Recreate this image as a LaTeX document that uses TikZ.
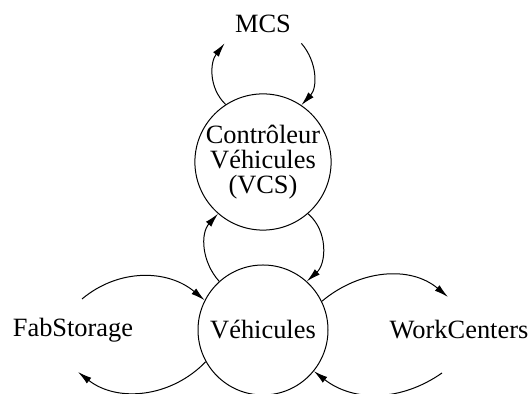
\documentclass[tikz,border=0pt]{standalone}
\usepackage{fontspec}
\newfontfamily\timesfont{Liberation Serif}
\usetikzlibrary{calc,arrows.meta}

\begin{document}
\begin{tikzpicture}[x=.5pt,y=.5pt,>={Latex[length=7pt,width=3.6pt]},line width=.5pt,
  every node/.style={font=\timesfont\fontsize{13.2}{12.5}\selectfont},
  etat/.style={draw,circle,minimum size=65pt,inner sep=0pt,align=center}]
\useasboundingbox (0,0) rectangle (531,394);
\node[etat] (vcs) at (263,232) {Contr\^oleur\\V\'ehicules\\(VCS)};
\node[etat] (veh) at (263,64) {V\'ehicules};
\node[inner xsep=5pt,inner ysep=5pt] (mcs) at (263,370) {MCS};
\node (fab) at (73,64) {FabStorage};
\node (work) at (459,64) {WorkCenters};
% MCS <-> VCS
\draw[->] (vcs.123) to[out=136,in=232] (mcs.south west);
\draw[->] (mcs.south east) to[out=-49,in=47] (vcs.56);
% VCS <-> Vehicules
\draw[->] (veh.132) to[out=132,in=228] (vcs.229);
\draw[->] (vcs.311) to[out=-40,in=42] (veh.48);
% FabStorage <-> Vehicules
\draw[->] ([shift={(9,31)}]fab.center) to[out=40,in=140] (veh.153);
\draw[->] (veh.209) to[out=226,in=-38] ([shift={(5,-42)}]fab.center);
% Vehicules <-> WorkCenters
\draw[->] (veh.26) to[out=40,in=140] ([shift={(-11,33)}]work.center);
\draw[->] ([shift={(-17,-43)}]work.center) to[out=215,in=-38] (veh.321);
\end{tikzpicture}
\end{document}
